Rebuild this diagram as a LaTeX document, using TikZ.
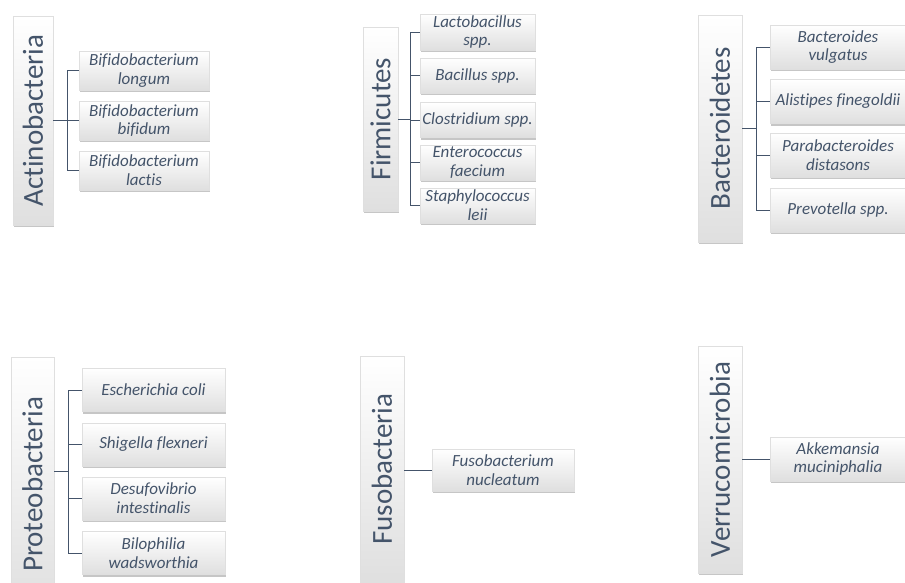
\documentclass[tikz,border=0pt]{standalone}
\usepackage{fontspec}
\setmainfont[Ligatures=NoCommon]{Carlito}
\usepackage{tikz}
\usetikzlibrary{shadows}
\definecolor{slate}{HTML}{44546A}

\begin{document}
\begin{tikzpicture}[
  x=1pt, y=-1pt,
  boxbase/.style={draw=gray!25, line width=0.4pt, top color=white, bottom color=gray!25,
    drop shadow={opacity=0.45, shadow xshift=1pt, shadow yshift=-2pt},
    text=slate, inner sep=0pt, align=center},
  phylum/.style={boxbase, font=\fontsize{29}{31}\selectfont},
  species/.style={boxbase, font=\fontsize{17}{18.8}\selectfont\itshape},
  link/.style={draw=slate, line width=0.8pt}
]
\useasboundingbox (0,0) rectangle (905,582);

% Actinobacteria
\node (act) [phylum, minimum width=40pt, minimum height=209pt] at (33,120.5) {\rotatebox{90}{Actinobacteria}};
\node (act1) [species, minimum width=130pt, minimum height=39pt] at (144,70.5) {Bifidobacterium\\longum};
\node (act2) [species, minimum width=130pt, minimum height=39pt] at (144,120.5) {Bifidobacterium\\bifidum};
\node (act3) [species, minimum width=130pt, minimum height=39pt] at (144,170.5) {Bifidobacterium\\lactis};
\coordinate (actj) at (67,120.5);
\draw[link] (act.east |- actj) -- (actj);
\foreach \c in {act1,act2,act3} \draw[link] (actj) |- (\c.west);

% Firmicutes
\node (fir) [phylum, minimum width=35pt, minimum height=184pt] at (380.5,119) {\rotatebox{90}{Firmicutes}};
\node (fir1) [species, minimum width=115pt, minimum height=36pt] at (477.5,32) {Lactobacillus\\spp.};
\node (fir2) [species, minimum width=115pt, minimum height=35pt] at (477.5,75.5) {Bacillus spp.};
\node (fir3) [species, minimum width=115pt, minimum height=35pt] at (477.5,120) {Clostridium spp.};
\node (fir4) [species, minimum width=115pt, minimum height=35pt] at (477.5,162.5) {Enterococcus\\faecium};
\node (fir5) [species, minimum width=115pt, minimum height=35pt] at (477.5,205.5) {Staphylococcus\\leii};
\coordinate (firj) at (410,119);
\draw[link] (fir.east |- firj) -- (firj);
\foreach \c in {fir1,fir2,fir3,fir4,fir5} \draw[link] (firj) |- (\c.west);

% Bacteroidetes
\node (bac) [phylum, minimum width=44pt, minimum height=227pt] at (720,128.5) {\rotatebox{90}{Bacteroidetes}};
\node (bac1) [species, minimum width=136pt, minimum height=44pt] at (838,47) {Bacteroides\\vulgatus};
\node (bac2) [species, minimum width=136pt, minimum height=44pt] at (838,101.5) {Alistipes finegoldii};
\node (bac3) [species, minimum width=136pt, minimum height=44pt] at (838,155) {Parabacteroides\\distasons};
\node (bac4) [species, minimum width=136pt, minimum height=44pt] at (838,210) {Prevotella spp.};
\coordinate (bacj) at (756,128);
\draw[link] (bac.east |- bacj) -- (bacj);
\foreach \c in {bac1,bac2,bac3,bac4} \draw[link] (bacj) |- (\c.west);

% Proteobacteria
\node (pro) [phylum, minimum width=43pt, minimum height=255pt] at (32.5,484.5) {\rotatebox{90}{Proteobacteria}};
\node (pro1) [species, minimum width=143pt, minimum height=43pt] at (153.5,390) {Escherichia coli};
\node (pro2) [species, minimum width=143pt, minimum height=43pt] at (153.5,444.5) {Shigella flexneri};
\node (pro3) [species, minimum width=143pt, minimum height=43pt] at (153.5,498.5) {Desufovibrio\\intestinalis};
\node (pro4) [species, minimum width=143pt, minimum height=43pt] at (153.5,553) {Bilophilia\\wadsworthia};
\coordinate (proj) at (68,471);
\draw[link] (pro.east |- proj) -- (proj);
\foreach \c in {pro1,pro2,pro3,pro4} \draw[link] (proj) |- (\c.west);

% Fusobacteria
\node (fus) [phylum, minimum width=44pt, minimum height=226pt] at (382,469) {\rotatebox{90}{Fusobacteria}};
\node (fus1) [species, minimum width=142pt, minimum height=42pt] at (503,470) {Fusobacterium\\nucleatum};
\draw[link] (fus.east |- fus1.west) -- (fus1.west);

% Verrucomicrobia
\node (ver) [phylum, minimum width=44pt, minimum height=227pt] at (720,459.5) {\rotatebox{90}{Verrucomicrobia}};
\node (ver1) [species, minimum width=136pt, minimum height=44pt] at (838,459) {Akkemansia\\muciniphalia};
\draw[link] (ver.east |- ver1.west) -- (ver1.west);
\end{tikzpicture}
\end{document}
